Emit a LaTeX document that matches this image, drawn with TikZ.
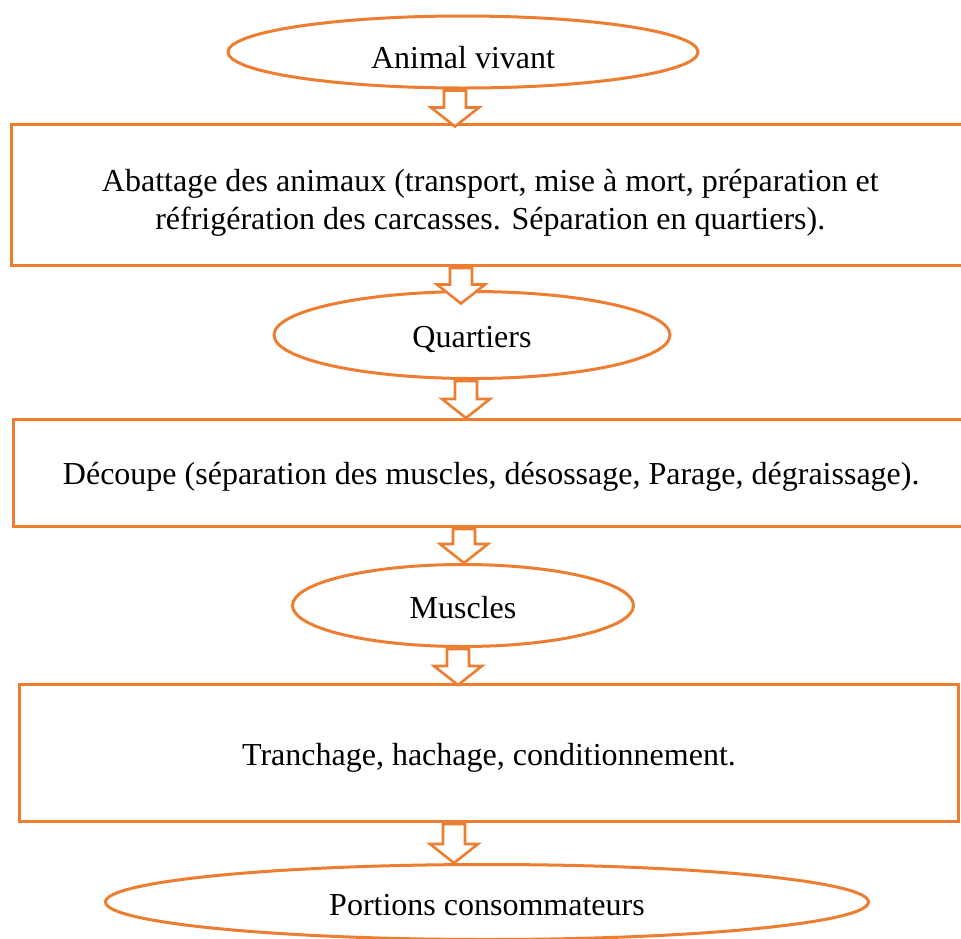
\documentclass[tikz,border=0pt]{standalone}
\usepackage{fontspec}
\setmainfont{Liberation Serif}
\usetikzlibrary{shapes.geometric,calc}
\definecolor{orangeline}{HTML}{ED7D31}
\tikzset{
  base/.style={draw=orangeline, line width=3pt, fill=white, inner sep=0pt,
    font=\fontsize{32}{38}\selectfont, text=black, align=center},
  oval/.style={base, ellipse},
  stepbox/.style={base, rectangle},
  blockarr/.style={draw=orangeline, line width=2.6pt, fill=white, line join=miter},
}
% #1 = x position, #2 = from node, #3 = to node, #4 = extra reach of the tip (pt)
\newcommand\blockarrow[4]{%
  \draw[blockarr] let \p1=(#2.south), \p2=(#3.north) in
    ({#1pt-11pt},{\y1-1pt}) -- ({#1pt+11pt},{\y1-1pt})
    -- ({#1pt+11pt},{\y2+19pt-#4pt}) -- ({#1pt+24pt},{\y2+19pt-#4pt})
    -- ({#1pt},{\y2-#4pt})
    -- ({#1pt-24pt},{\y2+19pt-#4pt}) -- ({#1pt-11pt},{\y2+19pt-#4pt}) -- cycle;
}
\begin{document}
\begin{tikzpicture}[x=1pt,y=-1pt]
\useasboundingbox (0,0) rectangle (961,938);
\clip (0,0) rectangle (961,938);
\fill[white] (0,0) rectangle (961,938);

\node[oval, minimum width=470pt, minimum height=72pt, text height=33.5pt, text depth=0pt] (e1) at (463,52) {Animal vivant};
\node[stepbox, minimum width=957.5pt, minimum height=141pt] (b1) at (490.25,195)
  {\rule{0pt}{37pt}Abattage des animaux (transport, mise à mort, préparation et\\réfrigération des carcasses. Séparation en quartiers).};
\node[oval, minimum width=396pt, minimum height=87pt, text height=24pt, text depth=0pt] (e2) at (472,335) {Quartiers};
\node[stepbox, minimum width=955.5pt, minimum height=107pt, text height=23pt, text depth=0pt] (b2) at (491.25,473)
  {Découpe (séparation des muscles, désossage, Parage, dégraissage).};
\node[oval, minimum width=341pt, minimum height=82pt, text height=25.5pt, text depth=0pt] (e3) at (463,605.5) {Muscles};
\node[stepbox, minimum width=939pt, minimum height=137pt, text height=24.6pt, text depth=0pt] (b3) at (489,753)
  {Tranchage, hachage, conditionnement.};
\node[oval, minimum width=763pt, minimum height=75pt, text height=27.5pt, text depth=0pt] (e4) at (487,902) {Portions consommateurs};

\blockarrow{455}{e1}{b1}{3.5}
\blockarrow{461}{b1}{e2}{13.5}
\blockarrow{466}{e2}{b2}{0}
\blockarrow{464}{b2}{e3}{0}
\blockarrow{458}{e3}{b3}{2}
\blockarrow{454}{b3}{e4}{0}
\end{tikzpicture}
\end{document}
